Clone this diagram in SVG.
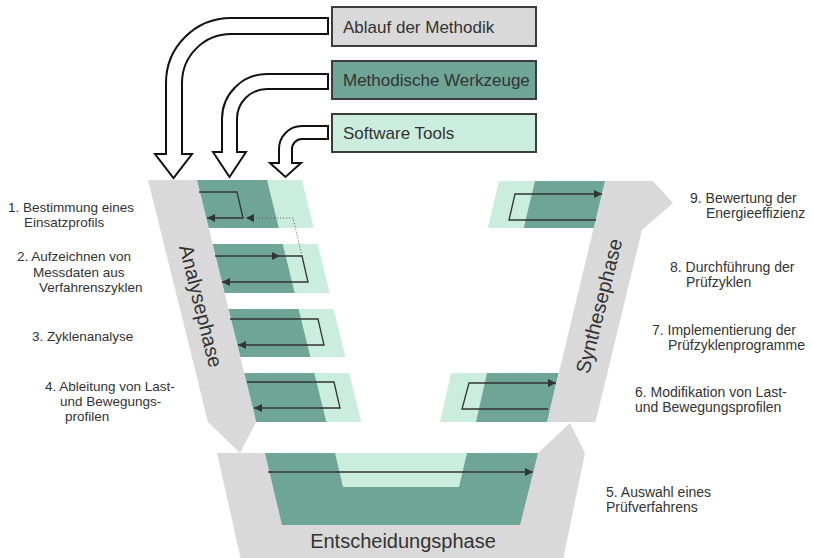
<svg xmlns="http://www.w3.org/2000/svg" width="813" height="558" viewBox="0 0 813 558">
<defs>
<marker id="ah" viewBox="0 0 10 10" refX="10" refY="5" markerWidth="9" markerHeight="8" markerUnits="userSpaceOnUse" orient="auto"><path d="M0,0 L10,5 L0,10 Z" fill="#333"/></marker>
</defs>
<style>
.gray{fill:#d9d9d9}
.dk{fill:#6fa597}
.lt{fill:#cbeddd}
.box{stroke:#3c3c3c;stroke-width:2}
.lbl{font-family:"Liberation Sans",Arial,sans-serif;font-size:13.5px;fill:#333}
.lblr{font-family:"Liberation Sans",Arial,sans-serif;font-size:14px;fill:#333}
.leg{font-family:"Liberation Sans",Arial,sans-serif;font-size:17px;fill:#333}
.ph{font-family:"Liberation Sans",Arial,sans-serif;font-size:20px;fill:#333}
.big{fill:#fff;stroke:#111;stroke-width:2}
.ln{fill:none;stroke:#333;stroke-width:1.3}
.dot{fill:none;stroke:#555;stroke-width:1;stroke-dasharray:1 2}
</style>
<rect width="813" height="558" fill="#fff"/>

<g id="analysephase">
<polygon class="gray" points="148,180 197,180 256.3,422 240,453 208,422"/>
<text class="ph" text-anchor="middle" transform="translate(201,306) rotate(76)" x="0" y="7">Analysephase</text>
</g>
<g id="synthesephase">
<polygon class="gray" points="605,181 653,181 673,203 642,230 595.5,422 547,422"/>
<text class="ph" text-anchor="middle" transform="translate(599,306) rotate(-76)" x="0" y="7">Synthesephase</text>
</g>
<g id="entscheidungsphase">
<polygon class="gray" points="217,453 538,453 570,423 585,453 563,560 241,560"/>
<polygon class="dk" points="265,453 538,453 520,525 282,525"/>
<polygon class="lt" points="335,453 467,453 459,487 343,487"/>
<text class="ph" text-anchor="middle" x="403" y="548">Entscheidungsphase</text>
</g>

<g id="step1">
<polygon class="lt" points="197,180 302,180 313.8,228 208.8,228"/>
<polygon class="dk" points="197,180 267,180 278.8,228 208.8,228"/>
<text class="lbl" x="8" y="212">1. Bestimmung eines</text>
<text class="lbl" x="24" y="227">Einsatzprofils</text>
</g>
<g id="step2">
<polygon class="lt" points="212.7,244 317.7,244 329.7,293 224.7,293"/>
<polygon class="dk" points="212.7,244 282.7,244 294.7,293 224.7,293"/>
<text class="lbl" x="17" y="261">2. Aufzeichnen von</text>
<text class="lbl" x="33" y="277">Messdaten aus</text>
<text class="lbl" x="39" y="292">Verfahrenszyklen</text>
</g>
<g id="step3">
<polygon class="lt" points="228.6,309 333.6,309 345.4,357 240.4,357"/>
<polygon class="dk" points="228.6,309 298.6,309 310.4,357 240.4,357"/>
<text class="lbl" x="32" y="341">3. Zyklenanalyse</text>
</g>
<g id="step4">
<polygon class="lt" points="244.3,373 349.3,373 361.3,422 256.3,422"/>
<polygon class="dk" points="244.3,373 314.3,373 326.3,422 256.3,422"/>
<text class="lbl" x="45" y="391">4. Ableitung von Last-</text>
<text class="lbl" x="60" y="406">und Bewegungs-</text>
<text class="lbl" x="65" y="421">profilen</text>
</g>
<g id="step5">
<text class="lblr" x="606" y="497">5. Auswahl eines</text>
<text class="lblr" x="606" y="512">Prüfverfahrens</text>
</g>
<g id="step6">
<polygon class="lt" points="451,373 558.5,373 547,422 440,422"/>
<polygon class="dk" points="487,373 558.5,373 547,422 476,422"/>
<text class="lblr" x="635" y="397">6. Modifikation von Last-</text>
<text class="lblr" x="635" y="412">und Bewegungsprofilen</text>
</g>
<g id="step7">
<text class="lblr" x="652" y="335">7. Implementierung der</text>
<text class="lblr" x="668" y="350">Prüfzyklenprogramme</text>
</g>
<g id="step8">
<text class="lblr" x="670" y="272">8. Durchführung der</text>
<text class="lblr" x="686" y="287">Prüfzyklen</text>
</g>
<g id="step9">
<polygon class="lt" points="499,181 605,181 593.7,228 487.7,228"/>
<polygon class="dk" points="535,181 605,181 593.7,228 523.7,228"/>
<text class="lblr" x="690" y="203">9. Bewertung der</text>
<text class="lblr" x="706" y="218">Energieeffizienz</text>
</g>

<g id="legend-ablauf">
<rect class="box gray" x="332" y="7" width="204" height="39"/>
<text class="leg" x="343" y="33">Ablauf der Methodik</text>
</g>
<g id="legend-werkzeuge">
<rect class="box dk" x="332" y="61" width="204" height="38"/>
<text class="leg" x="343" y="86">Methodische Werkzeuge</text>
</g>
<g id="legend-software">
<rect class="box lt" x="332" y="114" width="204" height="38"/>
<text class="leg" x="343" y="139">Software Tools</text>
</g>

<g id="connectors">
<path class="big" d="M328,18 L231,18 A65,65 0 0 0 166,83 L166,154 L155,154 L173.5,178 L192,154 L182,154 L182,83 A49,49 0 0 1 231,34 L328,34 Z"/>
<path class="big" d="M328,74 L267,74 A45,45 0 0 0 222,119 L222,152 L213,152 L229.5,177 L246,152 L237,152 L237,119 A30,30 0 0 1 267,89 L328,89 Z"/>
<path class="big" d="M328,126 L302,126 A23,23 0 0 0 279,149 L279,163 L270,163 L285.5,177 L301,163 L292,163 L292,149 A10,10 0 0 1 302,139 L328,139 Z"/>
<path class="ln" marker-end="url(#ah)" d="M199,192 L237,192 L243,218 L207,218"/>
<path class="dot" marker-end="url(#ah)" d="M302,256 L293,218 L246,218"/>
<path class="ln" marker-end="url(#ah)" d="M215,256 L280,256"/>
<path class="ln" marker-end="url(#ah)" d="M280,256 L302,256 L308,282 L222,282"/>
<path class="ln" marker-end="url(#ah)" d="M230,319 L318,319 L324,345 L238,345"/>
<path class="ln" marker-end="url(#ah)" d="M247,382 L334,382 L340,408 L254,408"/>
<path class="ln" marker-end="url(#ah)" d="M268,472 L533,472"/>
<path class="ln" marker-end="url(#ah)" d="M548,409 L462,409 L469,383 L556,383"/>
<path class="ln" marker-end="url(#ah)" d="M596,220 L509,220 L515,194 L602,194"/>
</g>
</svg>
